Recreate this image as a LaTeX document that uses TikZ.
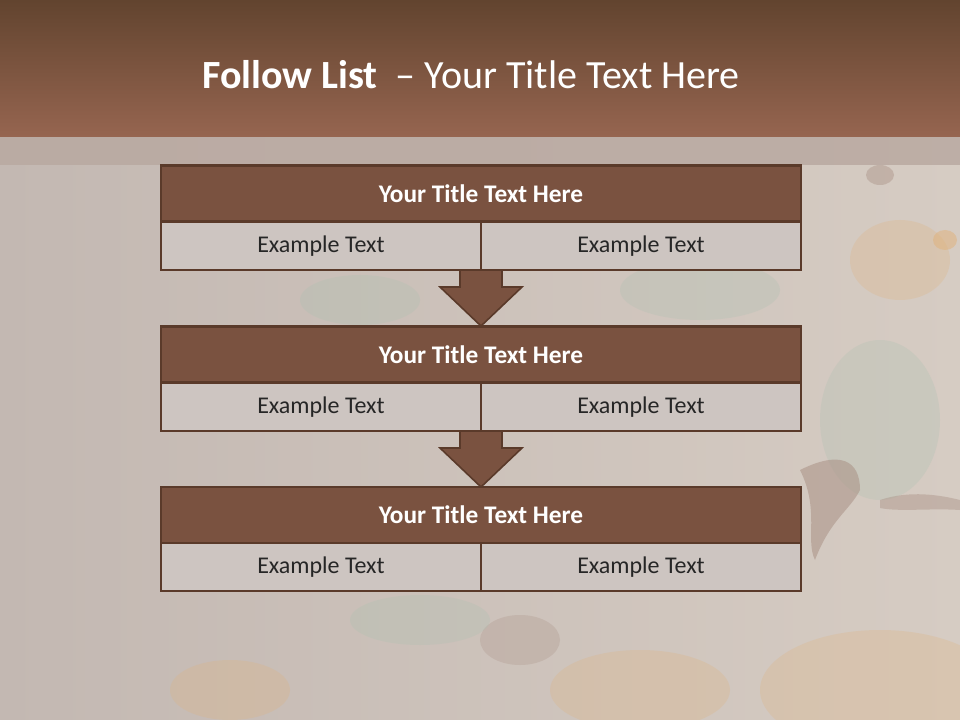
\documentclass[tikz,border=0pt]{standalone}
\usepackage{fontspec}
\setmainfont{Carlito}
\usetikzlibrary{calc}
\definecolor{hdrtop}{HTML}{62442F}
\definecolor{hdrbot}{HTML}{966550}
\definecolor{strip}{HTML}{B9A9A1}
\definecolor{bgleft}{HTML}{C3B8B2}
\definecolor{bgright}{HTML}{D6CCC3}
\definecolor{boxfill}{HTML}{7A5240}
\definecolor{boxline}{HTML}{5A3A2A}
\definecolor{cellfill}{HTML}{CDC5C1}
\definecolor{rustor}{HTML}{E0B27A}
\definecolor{rustgr}{HTML}{A9C0B0}
\definecolor{rustdk}{HTML}{A68C80}
\tikzset{
  titlebox/.style={draw=boxline, fill=boxfill, line width=1.6pt, minimum width=480pt, minimum height=42pt, inner sep=0pt, text=white, font=\fontsize{19}{22}\selectfont\bfseries},
  cellbox/.style={draw=boxline, fill=cellfill, line width=1.6pt, minimum width=240pt, minimum height=36pt, inner sep=0pt, text=black!85, font=\fontsize{18}{21}\selectfont},
  downarrow/.style={draw=boxline, fill=boxfill, line width=1.2pt, line join=miter},
  blob/.style={opacity=0.25}
}
\begin{document}
\begin{tikzpicture}[x=0.75pt,y=-0.75pt]
\useasboundingbox (0,0) rectangle (960,720);
% background
\shade[left color=bgleft, right color=bgright] (0,0) rectangle (960,720);
\begin{scope}
\clip (0,137) rectangle (960,720);
\fill[rustor, blob] (880,690) ellipse (120 and 60);
\fill[rustor, blob] (640,690) ellipse (90 and 40);
\fill[rustor, blob] (230,690) ellipse (60 and 30);
\fill[rustdk, blob] (520,640) ellipse (40 and 25);
\fill[rustgr, blob] (700,290) ellipse (80 and 30);
\fill[rustgr, blob] (360,300) ellipse (60 and 25);
\fill[rustgr, blob] (880,420) ellipse (60 and 80);
\fill[rustgr, blob] (420,620) ellipse (70 and 25);
\fill[rustor, blob] (900,260) ellipse (50 and 40);
\fill[rustor, opacity=0.5] (945,240) ellipse (12 and 10);
\fill[rustdk, opacity=0.5] (800,470) .. controls (840,450) and (860,460) .. (860,490) .. controls (850,510) and (830,520) .. (815,560) .. controls (805,540) and (820,510) .. (800,470) -- cycle;
\fill[rustdk, opacity=0.4] (880,175) ellipse (14 and 10);
\fill[rustdk, opacity=0.4] (880,500) .. controls (910,490) and (940,495) .. (960,500) -- (960,510) .. controls (930,508) and (900,512) .. (880,508) -- cycle;
\end{scope}
% header
\shade[top color=hdrtop, bottom color=hdrbot] (0,0) rectangle (960,137);
\fill[strip, opacity=0.85] (0,137) rectangle (960,165);
\node[anchor=base, text=white, font=\fontsize{30}{34}\selectfont] (title) at (471,89) {\textbf{Follow List}\ \ – Your Title Text Here};
% arrows (drawn first, under boxes)
\coordinate (a1) at (481,270);
\coordinate (a2) at (481,431);
\foreach \a/\tip in {a1/326, a2/487}{
  \draw[downarrow] ($(\a)+(-21,0)$) -- ($(\a)+(21,0)$) -- ($(\a)+(21,17)$) -- ($(\a)+(41,17)$) -- (481,\tip) -- ($(\a)+(-41,17)$) -- ($(\a)+(-21,17)$) -- cycle;
}
% block 1
\node[titlebox] (t1) at (481,193.5) {Your Title Text Here};
\node[cellbox] (c1l) at (321,246) {Example Text};
\node[cellbox] (c1r) at (641,246) {Example Text};
% block 2
\node[titlebox] (t2) at (481,354.5) {Your Title Text Here};
\node[cellbox] (c2l) at (321,407) {Example Text};
\node[cellbox] (c2r) at (641,407) {Example Text};
% block 3
\node[titlebox] (t3) at (481,515) {Your Title Text Here};
\node[cellbox] (c3l) at (321,567) {Example Text};
\node[cellbox] (c3r) at (641,567) {Example Text};
\end{tikzpicture}
\end{document}
